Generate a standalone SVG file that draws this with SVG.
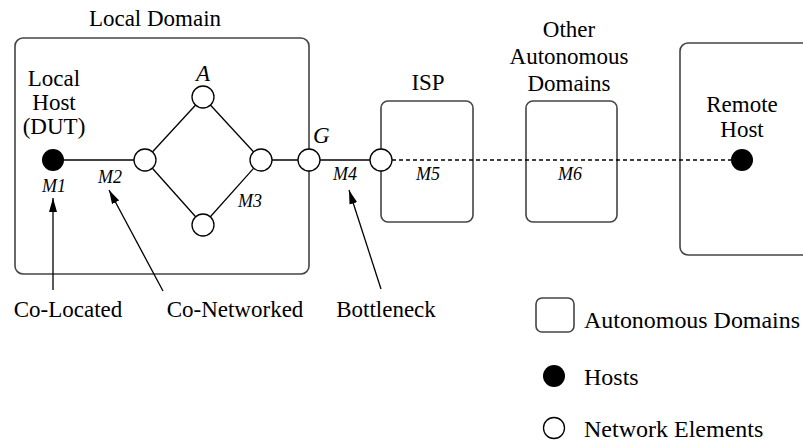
<svg xmlns="http://www.w3.org/2000/svg" width="803" height="441" viewBox="0 0 803 441">
<style>
.t{font-family:"Liberation Serif","Times New Roman",serif;font-size:23px;fill:#000}
.lg{font-size:24px}
.i{font-family:"Liberation Serif","Times New Roman",serif;font-style:italic;fill:#000}
.m{font-size:18px}
.box{fill:none;stroke:#444;stroke-width:1.6}
.ne{fill:#fff;stroke:#000;stroke-width:1.3}
.host{fill:#000}
.ln{stroke:#000;stroke-width:1.3;fill:none}
.dash{stroke:#000;stroke-width:1.3;stroke-dasharray:4 3;fill:none}
.arr{stroke:#000;stroke-width:1.3;fill:none;marker-end:url(#ah)}
</style>
<defs>
<marker id="ah" viewBox="0 0 14 8" refX="14" refY="4" markerWidth="14" markerHeight="8" markerUnits="userSpaceOnUse" orient="auto">
<path d="M0,0 L14,4 L0,8 Z" fill="#000"/>
</marker>
</defs>

<g id="local-domain">
<rect class="box" x="15" y="38" width="294" height="236" rx="8"/>
<text class="t" x="155" y="26" text-anchor="middle">Local Domain</text>
</g>
<g id="isp">
<rect class="box" x="381" y="101" width="92" height="121" rx="7"/>
<text class="t" x="428" y="90" text-anchor="middle">ISP</text>
</g>
<g id="other-domains">
<rect class="box" x="526" y="101" width="91" height="121" rx="7"/>
<text class="t" x="569" y="37" text-anchor="middle">Other</text>
<text class="t" x="569" y="64" text-anchor="middle">Autonomous</text>
<text class="t" x="569" y="91" text-anchor="middle">Domains</text>
</g>
<g id="remote-domain">
<rect class="box" x="680" y="43" width="140" height="212" rx="8"/>
<text class="t" x="742" y="112" text-anchor="middle">Remote</text>
<text class="t" x="742" y="137" text-anchor="middle">Host</text>
</g>

<g id="connectors">
<line class="ln" x1="64" y1="160" x2="134" y2="160"/>
<line class="ln" x1="145" y1="160" x2="203" y2="97"/>
<line class="ln" x1="203" y1="97" x2="261" y2="160"/>
<line class="ln" x1="145" y1="160" x2="203" y2="225"/>
<line class="ln" x1="203" y1="225" x2="261" y2="160"/>
<line class="ln" x1="261" y1="160" x2="309" y2="160"/>
<line class="ln" x1="309" y1="160" x2="381" y2="160"/>
<line class="dash" x1="392" y1="160" x2="731" y2="160"/>
<line class="arr" x1="53" y1="290" x2="53" y2="198"/>
<line class="arr" x1="163" y1="291" x2="109" y2="190"/>
<line class="arr" x1="381" y1="289" x2="349" y2="190"/>
</g>

<g id="local-host">
<circle class="host" cx="53" cy="160" r="11"/>
<text class="t" x="54" y="86" text-anchor="middle">Local</text>
<text class="t" x="54" y="110" text-anchor="middle">Host</text>
<text class="t" x="54" y="134" text-anchor="middle">(DUT)</text>
</g>
<g id="node-left"><circle class="ne" cx="145" cy="160" r="11"/></g>
<g id="node-a">
<circle class="ne" cx="203" cy="97" r="11"/>
<text class="i" x="203" y="81" font-size="23" text-anchor="middle">A</text>
</g>
<g id="node-right"><circle class="ne" cx="261" cy="160" r="11"/></g>
<g id="node-bottom"><circle class="ne" cx="203" cy="225" r="11"/></g>
<g id="node-g">
<circle class="ne" cx="309" cy="160" r="11"/>
<text class="i" x="313" y="143" font-size="23">G</text>
</g>
<g id="node-isp"><circle class="ne" cx="381" cy="160" r="11"/></g>
<g id="remote-host"><circle class="host" cx="742" cy="160" r="11"/></g>

<g id="measure-labels">
<text class="i m" x="54" y="192" text-anchor="middle">M1</text>
<text class="i m" x="110" y="183" text-anchor="middle">M2</text>
<text class="i m" x="250" y="207" text-anchor="middle">M3</text>
<text class="i m" x="345" y="180" text-anchor="middle">M4</text>
<text class="i m" x="428" y="180" text-anchor="middle">M5</text>
<text class="i m" x="570" y="180" text-anchor="middle">M6</text>
</g>

<g id="annotations">
<text class="t" x="68" y="317" text-anchor="middle">Co-Located</text>
<text class="t" x="235" y="317" text-anchor="middle">Co-Networked</text>
<text class="t" x="386" y="317" text-anchor="middle">Bottleneck</text>
</g>

<g id="legend">
<rect class="box" x="536" y="298" width="38" height="34" rx="6"/>
<text class="t lg" x="584" y="328" textLength="216" lengthAdjust="spacingAndGlyphs">Autonomous Domains</text>
<circle class="host" cx="554" cy="376" r="11"/>
<text class="t lg" x="584" y="385">Hosts</text>
<circle class="ne" cx="554" cy="428" r="10.5"/>
<text class="t lg" x="584" y="437">Network Elements</text>
</g>
</svg>
